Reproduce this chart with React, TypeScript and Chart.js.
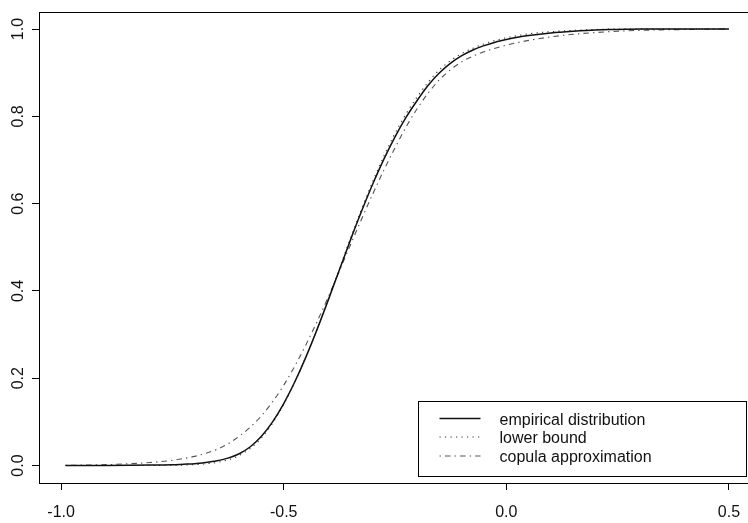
import React, { useEffect, useRef } from "react";
import { Chart, registerables } from "chart.js";

Chart.register(...registerables);

const xValues = [
  -0.99, -0.95, -0.9, -0.85, -0.8,
  -0.75, -0.725, -0.7, -0.675, -0.65, -0.625, -0.6, -0.575, -0.55, -0.525,
  -0.5, -0.475, -0.45, -0.425, -0.4, -0.375, -0.35, -0.325, -0.3, -0.275,
  -0.25, -0.225, -0.2, -0.175, -0.15, -0.125, -0.1, -0.075, -0.05, -0.025,
  0.0, 0.025, 0.05,
  0.1, 0.15, 0.2, 0.25, 0.3, 0.4, 0.5,
];

const empirical = [
  0.0, 0.0, 0.0002, 0.0005, 0.001,
  0.002, 0.003, 0.004, 0.007, 0.011, 0.017, 0.027, 0.043, 0.067, 0.1,
  0.142, 0.192, 0.249, 0.312, 0.379, 0.448, 0.517, 0.583, 0.645, 0.702,
  0.753, 0.798, 0.837, 0.872, 0.9, 0.922, 0.939, 0.952, 0.962, 0.97,
  0.976, 0.981, 0.985,
  0.991, 0.995, 0.998, 0.999, 1.0, 1.0, 1.0,
];

const lowerBound = [
  0.0, 0.0, 0.0, 0.0, 0.0,
  0.001, 0.001, 0.002, 0.004, 0.007, 0.013, 0.023, 0.039, 0.063, 0.097,
  0.14, 0.191, 0.249, 0.313, 0.381, 0.451, 0.521, 0.588, 0.651, 0.709,
  0.761, 0.806, 0.845, 0.879, 0.907, 0.928, 0.944, 0.956, 0.966, 0.974,
  0.98, 0.985, 0.989,
  0.994, 0.997, 0.999, 1.0, 1.0, 1.0, 1.0,
];

const copulaApprox = [
  0.0005, 0.001, 0.002, 0.004, 0.007,
  0.012, 0.016, 0.021, 0.028, 0.037, 0.05, 0.067, 0.088, 0.114, 0.146,
  0.184, 0.228, 0.277, 0.33, 0.386, 0.446, 0.506, 0.565, 0.622, 0.677,
  0.728, 0.776, 0.818, 0.854, 0.884, 0.907, 0.925, 0.938, 0.948, 0.956,
  0.963, 0.969, 0.974,
  0.982, 0.988, 0.992, 0.995, 0.997, 0.999, 1.0,
];

const xTicks = [-1.0, -0.5, 0.0, 0.5];
const yTicks = [0.0, 0.2, 0.4, 0.6, 0.8, 1.0];
const seriesNames = ["empirical distribution", "lower bound", "copula approximation"];

const FONT = '"Liberation Sans", Arial, Helvetica, sans-serif';

const boxPlugin = {
  id: "rbox",
  afterDraw(chart: any) {
    const { ctx, chartArea: a } = chart;
    ctx.save();
    ctx.strokeStyle = "#000";
    ctx.lineWidth = 1;
    ctx.setLineDash([]);
    const l = Math.round(a.left) + 0.5;
    const t = Math.round(a.top) + 0.5;
    const r = Math.round(a.right) + 0.5;
    const b = Math.round(a.bottom) + 0.5;
    ctx.strokeRect(l, t, r - l, b - t);

    // legend (bottom right)
    const lw = 328;
    const lh = 75;
    const lr = Math.round(a.right) - 10 + 0.5;
    const lb = Math.round(a.bottom) - 7 + 0.5;
    const ll = lr - lw;
    const lt = lb - lh;
    ctx.fillStyle = "#fff";
    ctx.fillRect(ll, lt, lw, lh);
    ctx.strokeStyle = "#000";
    ctx.lineWidth = 1;
    ctx.strokeRect(ll, lt, lw, lh);
    const rows = [17, 35.5, 54.5];
    chart.data.datasets.forEach((ds: any, i: number) => {
      const y = lt + rows[i];
      ctx.save();
      ctx.strokeStyle = ds.borderColor;
      ctx.lineWidth = ds.borderWidth;
      ctx.setLineDash(ds.borderDash || []);
      ctx.beginPath();
      ctx.moveTo(ll + 21, y);
      ctx.lineTo(ll + 62, y);
      ctx.stroke();
      ctx.restore();
      ctx.fillStyle = "#111";
      ctx.font = `16px ${FONT}`;
      ctx.textBaseline = "middle";
      ctx.textAlign = "left";
      ctx.fillText(seriesNames[i], ll + 81, y + 2);
    });
    ctx.restore();
  },
};

export default function App() {
  const ref = useRef<HTMLCanvasElement | null>(null);
  useEffect(() => {
    if (!ref.current) return;
    const mk = (vals: number[]) => xValues.map((x, i) => ({ x, y: vals[i] }));
    const chart = new Chart(ref.current, {
      type: "line",
      data: {
        datasets: [
          {
            label: seriesNames[0],
            data: mk(empirical),
            borderColor: "#111",
            borderWidth: 1.5,
            pointRadius: 0,
            fill: false,
            cubicInterpolationMode: "monotone",
          },
          {
            label: seriesNames[1],
            data: mk(lowerBound),
            borderColor: "#333",
            borderWidth: 1.1,
            borderDash: [1.2, 4.3],
            pointRadius: 0,
            fill: false,
            cubicInterpolationMode: "monotone",
          },
          {
            label: seriesNames[2],
            data: mk(copulaApprox),
            borderColor: "#555",
            borderWidth: 1.1,
            borderDash: [1.4, 4.1, 5.5, 4.1],
            pointRadius: 0,
            fill: false,
            cubicInterpolationMode: "monotone",
          },
        ],
      },
      options: {
        animation: false,
        responsive: false,
        devicePixelRatio: 1,
        layout: { padding: { top: 11, right: 4.5, left: 0, bottom: 0 } },
        plugins: { legend: { display: false }, tooltip: { enabled: false } },
        scales: {
          x: {
            type: "linear",
            min: -1.0496,
            max: 0.5596,
            afterBuildTicks: (s: any) => {
              s.ticks = xTicks.map((v) => ({ value: v }));
            },
            afterFit: (s: any) => {
              s.height = 40;
            },
            border: { display: false },
            grid: {
              drawOnChartArea: false,
              drawTicks: true,
              tickLength: 7,
              color: "#000",
              tickColor: "#000",
            },
            ticks: {
              autoSkip: false,
              maxRotation: 0,
              minRotation: 0,
              padding: 13,
              color: "#111",
              font: { family: FONT, size: 16 },
              callback: (v: any) => Number(v).toFixed(1),
            },
          },
          y: {
            type: "linear",
            min: -0.04,
            max: 1.04,
            afterBuildTicks: (s: any) => {
              s.ticks = yTicks.map((v) => ({ value: v }));
            },
            afterFit: (s: any) => {
              s.width = 39;
            },
            border: { display: false },
            grid: {
              drawOnChartArea: false,
              drawTicks: true,
              tickLength: 7,
              color: "#000",
              tickColor: "#000",
            },
            ticks: {
              autoSkip: false,
              minRotation: 90,
              maxRotation: 90,
              crossAlign: "center",
              padding: 2,
              color: "#111",
              font: { family: FONT, size: 16 },
              callback: (v: any) => Number(v).toFixed(1),
            },
          },
        },
      },
      plugins: [boxPlugin],
    } as any);
    return () => chart.destroy();
  }, []);
  return (
    <div
      style={{
        position: "fixed",
        left: 0,
        top: 0,
        width: 748,
        height: 523,
        overflow: "hidden",
        background: "#fff",
      }}
    >
      <canvas ref={ref} width={760} height={523} style={{ display: "block" }} />
    </div>
  );
}
